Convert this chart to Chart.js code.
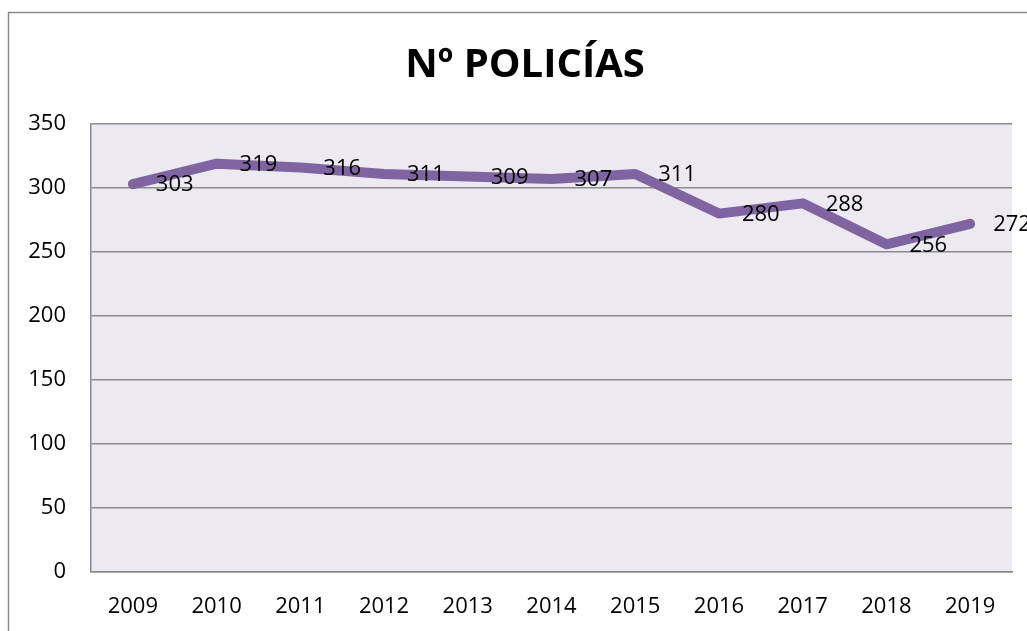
<!DOCTYPE html>
<html>
<head>
<meta charset="utf-8">
<script src="https://cdn.jsdelivr.net/npm/chart.js@4.4.1/dist/chart.umd.min.js"></script>
<style>
  html, body { margin: 0; padding: 0; background: #ffffff; overflow: hidden; }
  #wrap { position: absolute; left: 0; top: 0; width: 1027px; height: 631px; overflow: hidden; }
</style>
</head>
<body>
<div id="wrap"><canvas id="c" width="1050" height="631"></canvas></div>
<script>
const years = ['2009','2010','2011','2012','2013','2014','2015','2016','2017','2018','2019'];
const policias = [303, 319, 316, 311, 309, 307, 311, 280, 288, 256, 272];
const chartTitle = 'Nº POLICÍAS';

const FONT = "'Open Sans', 'Liberation Sans', sans-serif";

const decor = {
  id: 'decor',
  beforeDraw(chart) {
    const ctx = chart.ctx, a = chart.chartArea;
    ctx.save();
    ctx.fillStyle = '#ffffff';
    ctx.fillRect(0, 0, chart.width, chart.height);
    ctx.strokeStyle = '#8a8a8a';
    ctx.lineWidth = 1.5;
    ctx.strokeRect(8.5, 12.5, 1200, 800);
    ctx.fillStyle = '#ECEAF0';
    ctx.fillRect(a.left, a.top, a.right - a.left, a.bottom - a.top);
    ctx.restore();
  },
  afterDatasetsDraw(chart) {
    const ctx = chart.ctx;
    const meta = chart.getDatasetMeta(0);
    const vals = chart.data.datasets[0].data;
    ctx.save();
    ctx.font = "22px " + FONT;
    ctx.fillStyle = '#000000';
    ctx.textAlign = 'left';
    ctx.textBaseline = 'middle';
    meta.data.forEach((pt, i) => {
      ctx.fillText(String(vals[i]), pt.x + 23, pt.y + 1);
    });
    ctx.restore();
  }
};

new Chart(document.getElementById('c'), {
  type: 'line',
  data: {
    labels: years,
    datasets: [{
      data: policias,
      borderColor: '#8064A2',
      borderWidth: 10,
      borderCapStyle: 'round',
      borderJoinStyle: 'round',
      pointRadius: 0,
      tension: 0,
      fill: false,
      yAxisID: 'y'
    }]
  },
  options: {
    responsive: false,
    animation: false,
    devicePixelRatio: 1,
    layout: { padding: { left: 0, right: 0, top: 0, bottom: 0 } },
    plugins: {
      legend: { display: false },
      tooltip: { enabled: false },
      title: {
        display: true,
        text: chartTitle,
        color: '#000000',
        font: { family: FONT, size: 40, weight: 'bold', lineHeight: 1.2 },
        padding: { top: 42, bottom: 34 }
      }
    },
    scales: {
      x: {
        offset: true,
        grid: { display: false, drawTicks: false },
        border: { display: true, color: '#8a8a8a', width: 1.5 },
        ticks: { color: '#000000', font: { family: FONT, size: 22 }, padding: 22, maxRotation: 0, autoSkip: false },
        afterFit(s) { s.height = 59; }
      },
      y: {
        min: 0, max: 350,
        grid: { color: '#8c8c8c', lineWidth: 1.5, drawTicks: false },
        border: { display: true, color: '#8a8a8a', width: 1.5 },
        ticks: { stepSize: 50, color: '#000000', font: { family: FONT, size: 22 }, padding: 25 },
        afterFit(s) { s.width = 91; }
      },
      yRight: {
        position: 'right',
        display: true,
        min: 0, max: 350,
        grid: { display: false, drawTicks: false },
        border: { display: false },
        ticks: { display: false },
        afterFit(s) { s.width = 38; }
      }
    }
  },
  plugins: [decor]
});
</script>
</body>
</html>
